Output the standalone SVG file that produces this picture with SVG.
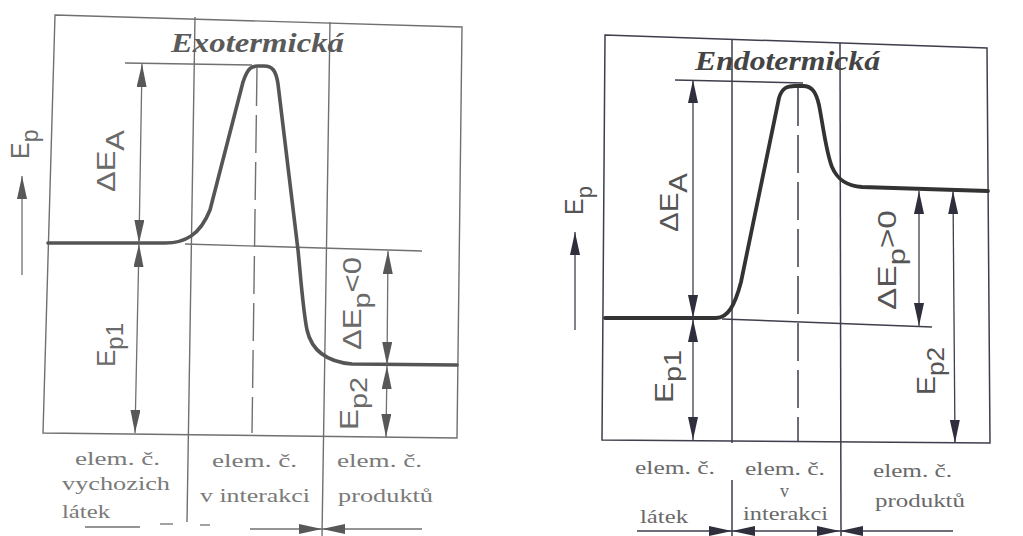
<svg xmlns="http://www.w3.org/2000/svg" width="1023" height="536" viewBox="0 0 1023 536">
<style>
.thinL{fill:none;stroke:#707070;stroke-width:1.4}
.thinR{fill:none;stroke:#3e3e4c;stroke-width:1.5}
.curveL{fill:none;stroke:#555;stroke-width:3.6;stroke-linejoin:round;stroke-linecap:round}
.curveR{fill:none;stroke:#333;stroke-width:3.8;stroke-linejoin:round;stroke-linecap:round}
.dimL{fill:none;stroke:#707070;stroke-width:1.3}
.dimR{fill:none;stroke:#3e3e4c;stroke-width:1.3}
.arL{marker-start:url(#ahL);marker-end:url(#ahL)}
.arR{marker-start:url(#ahR);marker-end:url(#ahR)}
.arLe{marker-end:url(#ahL)}
.arRe{marker-end:url(#ahR)}
.dash{stroke-dasharray:38 9}
.lab{font-family:"Liberation Sans",Arial,sans-serif;font-size:25px}
.labL{fill:#6a6a6a}
.labR{fill:#555}
.title{font-family:"Liberation Serif","Times New Roman",serif;font-style:italic;font-weight:bold;font-size:27px}
.bot{font-family:"Liberation Serif","Times New Roman",serif;font-size:19px}
</style>
<defs>
<marker id="ahL" viewBox="0 0 23 10" refX="23" refY="5" markerWidth="23" markerHeight="10" markerUnits="userSpaceOnUse" orient="auto-start-reverse"><path d="M0,0 L23,5 L0,10 z" fill="#585858"/></marker>
<marker id="ahR" viewBox="0 0 23 10" refX="23" refY="5" markerWidth="23" markerHeight="10" markerUnits="userSpaceOnUse" orient="auto-start-reverse"><path d="M0,0 L23,5 L0,10 z" fill="#2e2e3c"/></marker>
</defs>
<rect width="1023" height="536" fill="#fff"/>

<g id="exo">
<g id="exo-frame">
<polygon class="thinL" points="55,15 462,27 457,438 43,433"/>
<line class="thinL" x1="195" y1="17" x2="187" y2="522"/>
<line class="thinL" x1="330" y1="22" x2="322" y2="536"/>
<line class="thinL dash" x1="257" y1="68" x2="252" y2="433"/>
<line class="thinL" x1="125" y1="63" x2="252" y2="65"/>
<line class="thinL" x1="185" y1="244" x2="422" y2="251"/>
</g>
<g id="exo-curve">
<path class="curveL" d="M48,243 L165,243 C185,243 200,235 210,210 L243,82 C248,67 252,66 258,66 L264,66 C272,66 276,70 278,84 L298,250 C301,280 303,310 307,330 C312,352 328,362 352,364 L457,365"/>
</g>
<g id="exo-axis">
<line class="dimL arLe" x1="22" y1="275" x2="22" y2="176"/>
<text class="lab labL" transform="translate(29,159) rotate(-90)">E<tspan dy="9" font-size="23">p</tspan></text>
</g>
<g id="exo-dEA">
<line class="dimL arL" x1="142" y1="64" x2="139" y2="243"/>
<text class="lab labL" transform="translate(115,192) rotate(-90)" textLength="62" lengthAdjust="spacingAndGlyphs">ΔE<tspan dy="9">A</tspan></text>
</g>
<g id="exo-Ep1">
<line class="dimL arL" x1="139" y1="244" x2="135" y2="433"/>
<text class="lab labL" transform="translate(115,367) rotate(-90)" textLength="44" lengthAdjust="spacingAndGlyphs">E<tspan dy="8" font-size="23">p1</tspan></text>
</g>
<g id="exo-dEp">
<line class="dimL arL" x1="388" y1="251" x2="387" y2="365"/>
<text class="lab labL" transform="translate(361,350) rotate(-90)" textLength="93" lengthAdjust="spacingAndGlyphs">ΔE<tspan dy="9" font-size="23">p</tspan><tspan dy="-9">&lt;0</tspan></text>
</g>
<g id="exo-Ep2">
<line class="dimL arL" x1="387" y1="366" x2="386" y2="437"/>
<text class="lab labL" transform="translate(358,430) rotate(-90)" textLength="53" lengthAdjust="spacingAndGlyphs">E<tspan dy="9" font-size="23">p2</tspan></text>
</g>
<g id="exo-title">
<text class="title" fill="#5a5a5a" x="171" y="52" textLength="173" lengthAdjust="spacingAndGlyphs">Exotermická</text>
</g>
<g id="exo-bottom" class="bot" fill="#7a7a7a">
<text x="75" y="465" textLength="85" lengthAdjust="spacingAndGlyphs">elem. č.</text>
<text x="62" y="490" textLength="108" lengthAdjust="spacingAndGlyphs">vychozich</text>
<text x="62" y="518" textLength="48" lengthAdjust="spacingAndGlyphs">látek</text>
<text x="212" y="467" textLength="85" lengthAdjust="spacingAndGlyphs">elem. č.</text>
<text x="200" y="502" textLength="110" lengthAdjust="spacingAndGlyphs">v interakci</text>
<text x="337" y="467" textLength="85" lengthAdjust="spacingAndGlyphs">elem. č.</text>
<text x="338" y="502" textLength="95" lengthAdjust="spacingAndGlyphs">produktů</text>
</g>
</g>

<g id="endo">
<g id="endo-frame">
<polygon class="thinR" points="605,35 987,48 990,443 602,440"/>
<line class="thinR" x1="732" y1="40" x2="732" y2="443"/>
<line class="thinR" x1="732" y1="480" x2="732" y2="536"/>
<line class="thinR" x1="840" y1="43" x2="841" y2="536"/>
<line class="thinR dash" x1="798" y1="88" x2="798" y2="442"/>
<line class="thinR" x1="675" y1="80" x2="803" y2="83"/>
<line class="thinR" x1="722" y1="319" x2="932" y2="327"/>
</g>
<g id="endo-curve">
<path class="curveR" d="M605,318 L716,318 C728,318 735,305 741,282 L779,98 C782,88 787,86 795,86 L803,86 C812,86 816,92 819,105 C823,125 826,152 832,167 C838,181 848,186 862,187 L988,191"/>
</g>
<g id="endo-axis">
<line class="dimR arRe" x1="575" y1="330" x2="575" y2="232"/>
<text class="lab labR" transform="translate(583,215) rotate(-90)">E<tspan dy="9" font-size="22">p</tspan></text>
</g>
<g id="endo-dEA">
<line class="dimR arR" x1="693" y1="80" x2="693" y2="318"/>
<text class="lab labR" transform="translate(678,232) rotate(-90)" textLength="59" lengthAdjust="spacingAndGlyphs">ΔE<tspan dy="9">A</tspan></text>
</g>
<g id="endo-Ep1">
<line class="dimR arR" x1="693" y1="319" x2="693" y2="440"/>
<text class="lab labR" transform="translate(673,403) rotate(-90)" textLength="53" lengthAdjust="spacingAndGlyphs">E<tspan dy="8" font-size="23">p1</tspan></text>
</g>
<g id="endo-dEp">
<line class="dimR arR" x1="919" y1="191" x2="919" y2="326"/>
<text class="lab labR" transform="translate(896,310) rotate(-90)" textLength="100" lengthAdjust="spacingAndGlyphs">ΔE<tspan dy="9" font-size="23">p</tspan><tspan dy="-9">&gt;0</tspan></text>
</g>
<g id="endo-Ep2">
<line class="dimR arR" x1="953" y1="191" x2="955" y2="443"/>
<text class="lab labR" transform="translate(935,395) rotate(-90)" textLength="48" lengthAdjust="spacingAndGlyphs">E<tspan dy="9" font-size="23">p2</tspan></text>
</g>
<g id="endo-title">
<text class="title" fill="#444" x="695" y="70" textLength="185" lengthAdjust="spacingAndGlyphs">Endotermická</text>
</g>
<g id="endo-bottom" class="bot" fill="#6a6a6a">
<text x="635" y="474" textLength="80" lengthAdjust="spacingAndGlyphs">elem. č.</text>
<text x="640" y="523" textLength="48" lengthAdjust="spacingAndGlyphs">látek</text>
<text x="745" y="475" textLength="80" lengthAdjust="spacingAndGlyphs">elem. č.</text>
<text x="780" y="497" font-size="18">v</text>
<text x="743" y="520" textLength="85" lengthAdjust="spacingAndGlyphs">interakci</text>
<text x="873" y="477" textLength="79" lengthAdjust="spacingAndGlyphs">elem. č.</text>
<text x="875" y="507" textLength="90" lengthAdjust="spacingAndGlyphs">produktů</text>
</g>
</g>

<g id="connectors">
<line class="dimL" x1="85" y1="527" x2="140" y2="527"/>
<line class="dimL" x1="160" y1="524" x2="173" y2="524"/>
<line class="dimL" x1="200" y1="525" x2="210" y2="525"/>
<line class="dimL arLe" x1="250" y1="529" x2="322" y2="529"/>
<line class="dimL arLe" x1="422" y1="529" x2="322" y2="529"/>
<line class="dimR arRe" x1="637" y1="531" x2="732" y2="531"/>
<line class="dimR arR" x1="732" y1="531" x2="840" y2="531"/>
<line class="dimR arRe" x1="953" y1="531" x2="840" y2="531"/>
</g>
</svg>
